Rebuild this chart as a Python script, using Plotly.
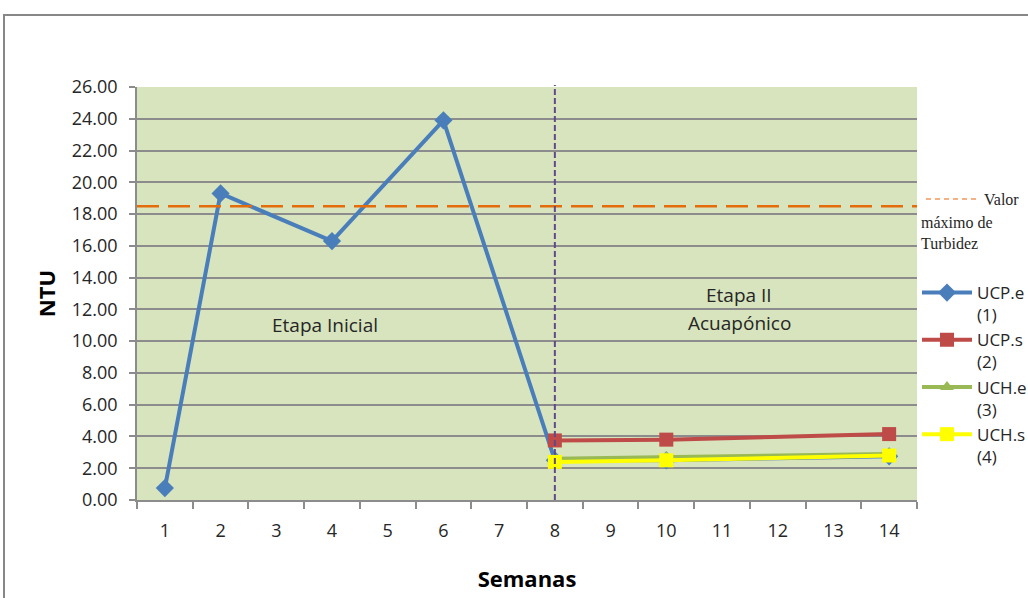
import plotly.graph_objects as go

# Weeks shown on the category axis
semanas = [str(i) for i in range(1, 15)]

# Turbidity (NTU) per unit and week
ucp_e_sem = [1, 2, 4, 6, 8, 10, 14]
ucp_e_ntu = [0.75, 19.3, 16.3, 23.9, 2.5, 2.5, 2.75]

ucp_s_sem = [8, 10, 14]
ucp_s_ntu = [3.75, 3.8, 4.15]

uch_e_sem = [8, 10, 14]
uch_e_ntu = [2.6, 2.7, 2.9]

uch_s_sem = [8, 10, 14]
uch_s_ntu = [2.4, 2.5, 2.8]

valor_maximo = 18.5      # maximum turbidity reference
semana_cambio = 8        # start of stage II

y_ticks = [0, 2, 4, 6, 8, 10, 12, 14, 16, 18, 20, 22, 24, 26]

W, H = 1028, 598
ML, MR, MT, MB = 137, 111, 87, 98
PW, PH = W - ML - MR, H - MT - MB


def px(xp):
    return (xp - ML) / PW


def py(yp):
    return (H - MB - yp) / PH


FONT = "Open Sans"
TXT = "#262626"

fig = go.Figure()

series = [
    ("UCP.e<br>(1)", ucp_e_sem, ucp_e_ntu, "#4a7ebb", "diamond", 14),
    ("UCP.s<br>(2)", ucp_s_sem, ucp_s_ntu, "#be4b48", "square", 14),
    ("UCH.e<br>(3)", uch_e_sem, uch_e_ntu, "#98b954", "triangle-up", 12),
    ("UCH.s<br>(4)", uch_s_sem, uch_s_ntu, "#ffff00", "square", 14),
]
for i, (name, xs, ys, col, sym, sz) in enumerate(series):
    fig.add_trace(go.Scatter(
        x=xs, y=ys, name=name, mode="lines+markers",
        line=dict(color=col, width=4),
        marker=dict(symbol=sym, size=sz, color=col),
        legendgroup=f"g{i}",
    ))

# Maximum turbidity reference line
fig.add_shape(type="line", xref="paper", yref="y", x0=0, x1=1,
              y0=valor_maximo, y1=valor_maximo,
              line=dict(color="#e46c0a", width=2.5, dash="22px,9px"), layer="above")
# Stage separator
fig.add_shape(type="line", xref="x", yref="paper", x0=semana_cambio, x1=semana_cambio,
              y0=0, y1=1.005,
              line=dict(color="#5f4a8b", width=2, dash="6px,3px"), layer="above")

# Outer chart frame
fig.add_shape(type="rect", xref="paper", yref="paper",
              x0=px(4), x1=px(1040), y0=py(610), y1=py(15),
              line=dict(color="#878787", width=2), layer="below")

# Legend entry for the reference line
fig.add_shape(type="line", xref="paper", yref="paper",
              x0=px(926), x1=px(980), y0=py(199), y1=py(199),
              line=dict(color="#f4b183", width=2, dash="5px,4px"))
fig.add_annotation(xref="paper", yref="paper", x=px(982), y=py(199),
                   text="Valor", showarrow=False, xanchor="left", yanchor="middle",
                   font=dict(family="Liberation Serif", size=16, color=TXT))
fig.add_annotation(xref="paper", yref="paper", x=px(919), y=py(233),
                   text="máximo de<br>Turbidez", showarrow=False, xanchor="left",
                   yanchor="middle", align="left",
                   font=dict(family="Liberation Serif", size=16, color=TXT))

# Stage labels
fig.add_annotation(x=3.875, y=11.0, text="Etapa Inicial", showarrow=False,
                   font=dict(family=FONT, size=19, color=TXT))
fig.add_annotation(x=11.3, y=12.9, text="Etapa II", showarrow=False,
                   font=dict(family=FONT, size=19, color=TXT))
fig.add_annotation(x=11.32, y=11.14, text="Acuapónico", showarrow=False,
                   font=dict(family=FONT, size=19, color=TXT))

fig.update_xaxes(
    range=[0.5, 14.5], tickmode="array", tickvals=list(range(1, 15)), ticktext=semanas,
    ticks="", showgrid=False, zeroline=False,
    showline=True, linecolor="#8c8c8c", linewidth=1.5,
    minor=dict(ticks="outside", tick0=0.5, dtick=1, ticklen=7, tickcolor="#8c8c8c",
               tickwidth=1.5, showgrid=False),
    ticklabelstandoff=14,
    tickfont=dict(family=FONT, size=18, color=TXT),
    title=dict(text="<b>Semanas</b>", font=dict(family=FONT, size=22, color="#000"),
               standoff=30),
)
fig.update_yaxes(
    range=[0, 26], tickmode="array", tickvals=y_ticks, tickformat=".2f",
    ticks="outside", ticklen=6, tickcolor="#8c8c8c", tickwidth=1.5,
    showgrid=True, gridcolor="#8c8c8c", gridwidth=1.5, zeroline=False,
    showline=True, linecolor="#8c8c8c", linewidth=1.5,
    ticklabelstandoff=8,
    tickfont=dict(family=FONT, size=18, color=TXT),
    title=dict(text="<b>NTU</b>", font=dict(family=FONT, size=22, color="#000"),
               standoff=10),
)

fig.update_layout(
    width=W, height=H,
    margin=dict(l=ML, r=MR, t=MT, b=MB, autoexpand=False),
    paper_bgcolor="white", plot_bgcolor="#d7e4bd",
    showlegend=True,
    legend=dict(x=px(917), y=py(275), xanchor="left", yanchor="top",
                bgcolor="rgba(0,0,0,0)", valign="top", itemwidth=50,
                tracegroupgap=0, itemclick=False,
                font=dict(family=FONT, size=17, color=TXT)),
)

fig.write_html("out.html")
